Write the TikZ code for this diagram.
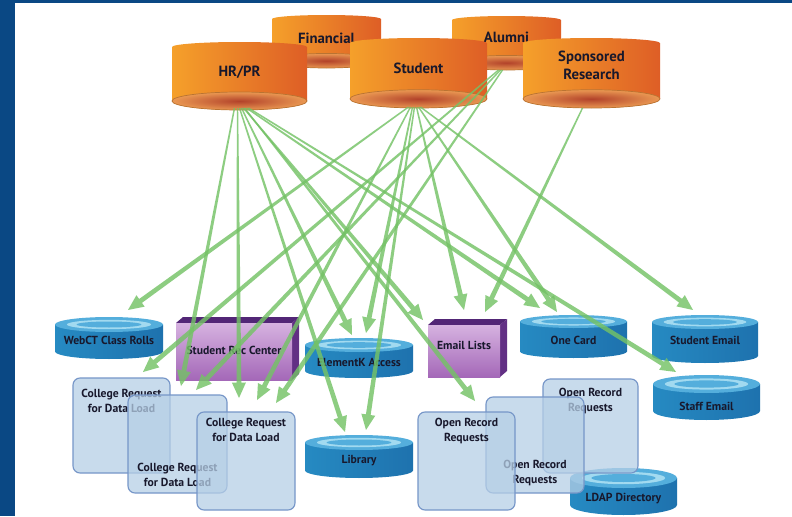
\documentclass[tikz,border=0pt]{standalone}
\usepackage{fontspec}
\setmainfont{PT Sans}
\usetikzlibrary{calc,positioning}

\definecolor{bandblue}{RGB}{10,72,132}
\definecolor{orgL}{RGB}{245,160,42}
\definecolor{orgM}{RGB}{249,190,88}
\definecolor{orgR}{RGB}{222,94,38}
\definecolor{orgC}{RGB}{178,66,42}
\definecolor{orgE}{RGB}{234,152,82}
\definecolor{orgRim}{RGB}{185,115,50}
\definecolor{bluL}{RGB}{38,138,194}
\definecolor{bluM}{RGB}{128,204,236}
\definecolor{bluR}{RGB}{30,114,174}
\definecolor{bluTop}{RGB}{84,174,220}
\definecolor{bluRing}{RGB}{162,218,240}
\definecolor{purL}{RGB}{214,178,224}
\definecolor{purD}{RGB}{164,104,184}
\definecolor{purTop}{RGB}{82,38,118}
\definecolor{purSide}{RGB}{98,48,132}
\definecolor{reqfill}{RGB}{182,207,230}
\definecolor{reqline}{RGB}{118,150,200}
\definecolor{flowgreen}{RGB}{116,194,102}
\definecolor{txtdark}{RGB}{24,24,44}

\tikzset{
  dbnode/.style={inner sep=0pt, outer sep=0pt, draw=none},
  toplabel/.style={font=\bfseries\fontsize{10.5}{12.8}\selectfont, text=txtdark, align=center, inner sep=0pt},
  botlabel/.style={font=\bfseries\fontsize{8.3}{10.7}\selectfont, text=txtdark, align=center, inner sep=0pt},
  reqbox/.style={dbnode, rounded corners=5pt, fill=reqfill, fill opacity=0.75, draw=reqline, line width=0.8pt},
  reqtext/.style={botlabel, text opacity=1},
  flowarrow/.style={fill=flowgreen, fill opacity=0.82}
}

% orange source database: name, cx, cy, a, b, label, label shift (pt)
\newcommand{\orangedb}[7]{%
  \shade[left color=orgL, middle color=orgM, right color=orgR]
    (#2-#4,#3+#5-#4/13.5) arc[start angle=180, end angle=0, x radius=#4, y radius=#4/13.5]
    -- (#2+#4,#3-#5+#4/7.5) arc[start angle=0, end angle=-180, x radius=#4, y radius=#4/7.5] -- cycle;
  \shadedraw[inner color=orgC, outer color=orgE, draw=orgRim, line width=0.5pt]
    (#2,#3-#5+#4/7.5) ellipse[x radius=#4, y radius=#4/7.5];
  \node[dbnode, minimum width=#4*0.05cm, minimum height=#5*0.05cm,
    label={[toplabel, yshift=#7pt]center:{#6}}] (#1) at (#2,#3) {};
}

% blue target database: name, cx, cy, a, b, top ry, label, label shift (pt)
\newcommand{\bluedb}[8]{%
  \shade[left color=bluL, middle color=bluM, right color=bluR]
    (#2-#4,#3+#5-#6) -- (#2-#4,#3-#5+#6) arc[start angle=180, end angle=360, x radius=#4, y radius=#6]
    -- (#2+#4,#3+#5-#6) -- cycle;
  \fill[bluTop] (#2,#3+#5-#6) ellipse[x radius=#4, y radius=#6];
  \fill[bluRing] (#2,#3+#5-#6) ellipse[x radius=0.78*#4, y radius=0.62*#6];
  \fill[bluTop] (#2,#3+#5-#6) ellipse[x radius=0.6*#4, y radius=0.4*#6];
  \node[dbnode, minimum width=#4*0.05cm, minimum height=#5*0.05cm,
    label={[botlabel, yshift=#8pt]center:{#7}}] (#1) at (#2,#3) {};
}

% purple block: name, x0, y0, w, h, label, label shift (pt)
\newcommand{\purplebox}[7]{%
  \fill[purTop] (#2,#3+#5) -- ++(7,6) -- ++(#4,0) -- ++(-7,-6) -- cycle;
  \fill[purSide] (#2+#4,#3) -- ++(7,6) -- ++(0,#5) -- ++(-7,-6) -- cycle;
  \shade[top color=purL, bottom color=purD] (#2,#3) rectangle ++(#4,#5);
  \node[dbnode, minimum width=#4*0.025cm, minimum height=#5*0.025cm,
    label={[botlabel, yshift=#7pt]center:{#6}}] (#1) at (#2+#4/2,#3+#5/2) {};
}

% tapered green feed arrow
\newcommand{\dataflow}[2]{%
  \coordinate (fa) at (#1);
  \coordinate (fz) at (#2);
  \coordinate (fb) at ($(fz)!11pt!(fa)$);
  \fill[flowarrow] ($(fa)!0.5pt!90:(fz)$) -- ($(fb)!1.7pt!-90:(fa)$) -- ($(fb)!5pt!-90:(fa)$)
    -- (fz) -- ($(fb)!5pt!90:(fa)$) -- ($(fb)!1.7pt!90:(fa)$) -- ($(fa)!0.5pt!-90:(fz)$) -- cycle;
}

\begin{document}
\begin{tikzpicture}[x=0.025cm,y=0.025cm]
\useasboundingbox (0,0) rectangle (792,516);
\fill[white] (0,0) rectangle (792,516);
\fill[bandblue] (0,0) rectangle (15,516);
\fill[bandblue] (0,513) rectangle (792,516);

% sources
\orangedb{fin}{326.5}{474.5}{54.5}{26.5}{Financial}{2.5}
\orangedb{alu}{506.5}{473}{54.5}{27}{Alumni}{4.3}
\orangedb{hr}{239.5}{440}{67.5}{34}{HR/PR}{2.8}
\orangedb{stu}{418.5}{443}{68.5}{35}{Student}{3.5}
\orangedb{spo}{591.5}{443}{68.5}{35}{Sponsored\\Research}{5.7}

% targets
\bluedb{webct}{109}{178}{54}{21}{7.5}{WebCT Class Rolls}{-2}
\bluedb{elk}{359}{158}{54}{20}{7}{ElementK Access}{-3}
\bluedb{lib}{359}{59.5}{54}{21.5}{7.5}{Library}{-3}
\bluedb{onecard}{573.5}{179.5}{53.5}{21.5}{6.5}{One Card}{-2.5}
\bluedb{stumail}{705}{177}{53}{24}{7}{Student Email}{-1}
\bluedb{staffmail}{706.5}{118.5}{53.5}{22.5}{9}{Staff Email}{-6}
\bluedb{ldap}{623.5}{24.5}{53.5}{23.5}{10}{LDAP Directory}{-5}

\purplebox{src}{176}{136}{116}{57}{Student Rec Center}{1}
\purplebox{email}{428}{139}{72}{52}{Email Lists}{4.3}

% request sheets
\node[reqbox, minimum width=97*0.025cm, minimum height=95*0.025cm,
  label={[reqtext, anchor=north, yshift=-8pt]north:{College Request\\for Data Load}}] (cr1) at (121.5,90.5) {};
\node[reqbox, minimum width=99*0.025cm, minimum height=98*0.025cm,
  label={[reqtext, anchor=south, yshift=4pt]south:{College Request\\for Data Load}}] (cr2) at (177.5,72) {};
\node[reqbox, minimum width=98*0.025cm, minimum height=98*0.025cm,
  label={[reqtext, anchor=north, yshift=-4pt]north:{College Request\\for Data Load}}] (cr3) at (246,55) {};
\node[reqbox, minimum width=95*0.025cm, minimum height=94*0.025cm,
  label={[reqtext, anchor=north, yshift=-6.5pt]north:{Open Record\\Requests}}] (or3) at (590.5,90) {};
\node[reqbox, minimum width=98*0.025cm, minimum height=96*0.025cm,
  label={[reqtext, anchor=south, yshift=5pt]south:{Open Record\\Requests}}] (or2) at (535,71) {};
\node[reqbox, minimum width=97*0.025cm, minimum height=98*0.025cm,
  label={[reqtext, anchor=north, yshift=-4pt]north:{Open Record\\Requests}}] (or1) at (466.5,55) {};

% feeds from HR/PR
\dataflow{$(hr.south)+(-5,2)$}{$(cr2.north)+(3.5,9)$}
\dataflow{$(hr.south)+(-2,2)$}{$(cr3.north)+(-7,14)$}
\dataflow{$(hr.south)+(0,2)$}{$(lib.north)+(-14,3)$}
\dataflow{$(hr.south)+(2,2)$}{$(elk.north)+(-7,3)$}
\dataflow{$(hr.south)+(4,2)$}{$(email.north west)+(-5,5)$}
\dataflow{$(hr.south)+(5,2)$}{$(or1.north)+(8.5,11)$}
\dataflow{$(hr.south)+(7,2)$}{$(onecard.north)+(-33.5,7)$}
\dataflow{$(hr.south)+(9,2)$}{$(staffmail.north)+(-30.5,3)$}

% feeds from Student
\dataflow{$(stu.south)+(-10,1)$}{$(webct.north)+(19,7)$}
\dataflow{$(stu.south)+(-8,1)$}{$(cr3.north)+(11,12)$}
\dataflow{$(stu.south)+(-6,1)$}{$(elk.north)+(7,5)$}
\dataflow{$(stu.south)+(-4,1)$}{$(lib.north)+(7,5)$}
\dataflow{$(stu.south)+(-2,1)$}{$(email.north)+(0,15)$}
\dataflow{$(stu.south)+(0,1)$}{$(onecard.north)+(-16.5,3)$}
\dataflow{$(stu.south)+(2,1)$}{$(stumail.north)+(-12,5)$}

% feeds from Alumni and Sponsored Research
\dataflow{$(alu.south)+(-8,0)$}{$(cr1.north)+(21.5,6)$}
\dataflow{$(alu.south)+(-6,0)$}{$(cr2.north)+(18.5,5)$}
\dataflow{$(alu.south)+(-4,0)$}{$(cr3.north)+(30,9)$}
\dataflow{$(spo.south)+(-9,0)$}{$(email.north)+(21,13)$}

\end{tikzpicture}
\end{document}
